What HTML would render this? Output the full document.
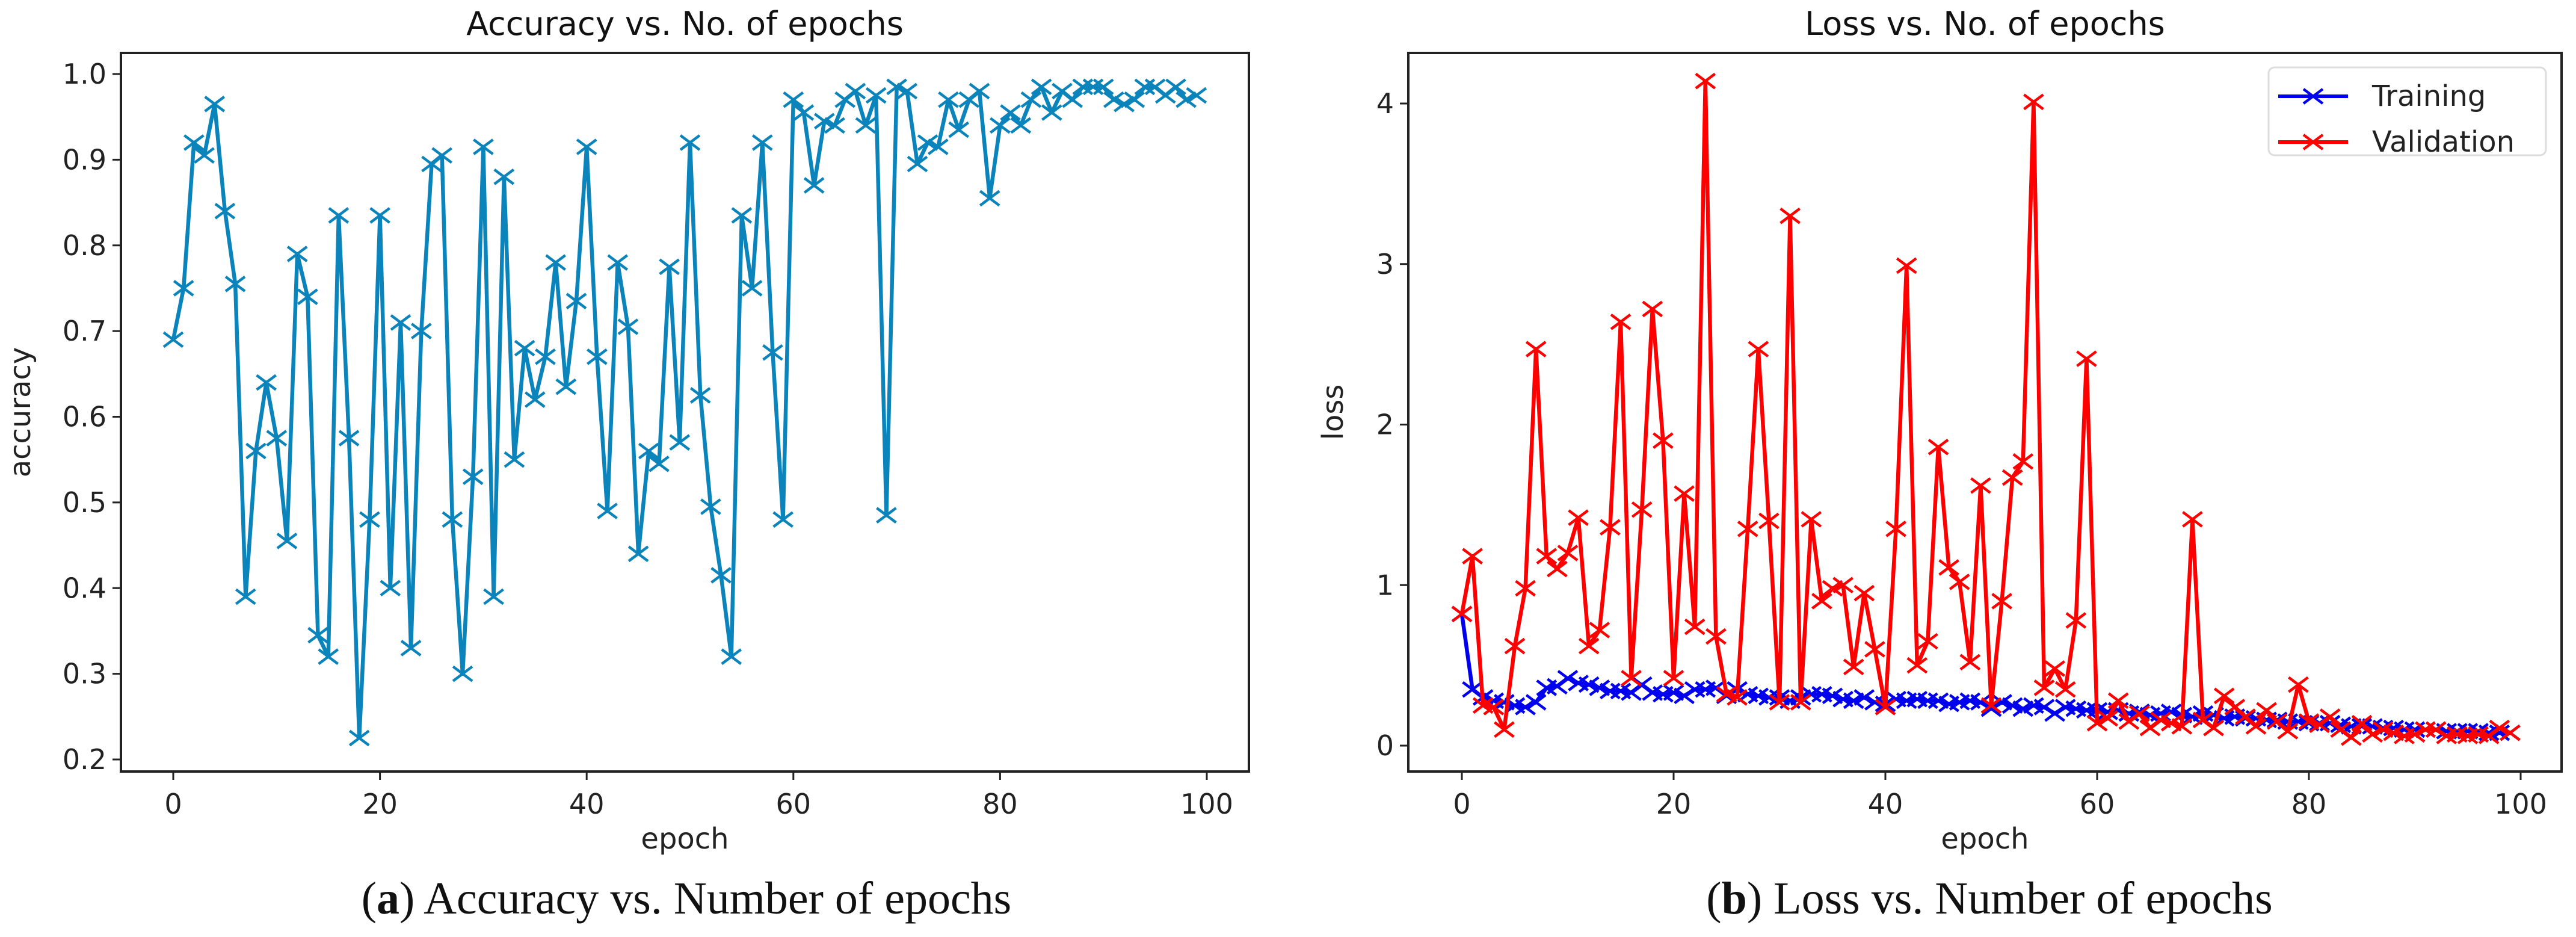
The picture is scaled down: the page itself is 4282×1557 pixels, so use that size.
<!DOCTYPE html>
<html><head><meta charset="utf-8"><style>
html,body{margin:0;padding:0;background:#fff;}
svg{display:block;}
</style></head><body>
<svg id="fig" width="4282" height="1557" viewBox="0 0 4282 1557" xmlns="http://www.w3.org/2000/svg" font-family="'DejaVu Sans','Liberation Sans',sans-serif">
<rect width="4282" height="1557" fill="#fff"/>
<g id="left"></g>
<g id="right"></g>
<text x="1141" y="1518" font-family="'Liberation Serif',serif" font-size="76" text-anchor="middle" fill="#111">(<tspan font-weight="bold">a</tspan>) Accuracy vs. Number of epochs</text>
<text x="3307" y="1518" font-family="'Liberation Serif',serif" font-size="76" text-anchor="middle" fill="#111">(<tspan font-weight="bold">b</tspan>) Loss vs. Number of epochs</text>
</svg>
<script>
const accuracy = [.69,.75,.92,.905,.965,.84,.755,.39,.56,.64,.575,.455,.79,.74,.345,.32,.835,.575,.225,.48,.835,.40,.71,.33,.70,.895,.905,.48,.30,.53,.915,.39,.88,.55,.68,.62,.67,.78,.635,.735,.915,.67,.49,.78,.705,.44,.56,.545,.775,.57,.92,.625,.495,.415,.32,.835,.75,.92,.675,.48,.97,.955,.87,.945,.94,.97,.98,.94,.975,.485,.985,.98,.895,.92,.915,.97,.935,.97,.98,.855,.94,.955,.94,.97,.985,.955,.98,.97,.985,.985,.985,.97,.965,.97,.985,.985,.975,.985,.97,.975];
const trainingLoss = [.82,.35,.30,.28,.27,.25,.24,.27,.36,.37,.42,.39,.38,.36,.34,.34,.33,.38,.33,.32,.33,.31,.35,.35,.36,.31,.35,.32,.31,.30,.30,.28,.30,.32,.32,.31,.29,.28,.30,.27,.26,.29,.28,.29,.28,.28,.26,.27,.28,.27,.23,.27,.25,.23,.25,.24,.20,.24,.23,.22,.22,.21,.22,.20,.21,.19,.20,.21,.19,.18,.20,.19,.17,.18,.17,.17,.16,.16,.15,.15,.14,.14,.14,.13,.12,.12,.12,.11,.11,.10,.10,.10,.10,.09,.09,.09,.09,.08,.08,.08];
const validationLoss = [.82,1.18,.25,.24,.10,.62,.98,2.47,1.18,1.1,1.2,1.42,.62,.72,1.36,2.64,.42,1.47,2.72,1.9,.42,1.57,.74,4.14,.68,.32,.30,1.35,2.47,1.40,.27,3.30,.27,1.41,.90,.98,1.0,.49,.95,.60,.24,1.35,2.99,.50,.65,1.86,1.11,1.02,.52,1.62,.25,.90,1.67,1.77,4.01,.36,.48,.35,.78,2.41,.14,.17,.28,.15,.20,.11,.16,.14,.12,1.41,.16,.11,.31,.24,.18,.12,.22,.15,.09,.38,.15,.13,.18,.10,.05,.14,.07,.10,.08,.06,.07,.10,.10,.06,.07,.06,.07,.06,.11,.08];
const xTicks = [0,20,40,60,80,100];
const accTicks = ["0.2","0.3","0.4","0.5","0.6","0.7","0.8","0.9","1.0"];
const lossTicks = ["0","1","2","3","4"];

const NS = "http://www.w3.org/2000/svg";
function mk(parent, tag, attrs){const e=document.createElementNS(NS,tag);for(const k in attrs)e.setAttribute(k,attrs[k]);parent.appendChild(e);return e;}

function drawChart(g, cfg){
  const {left,right,top,bottom,x0,x100,yA,vA,yB,vB} = cfg;
  const sx = v => x0 + (x100-x0)*v/100;
  const sy = v => yA + (yB-yA)*(v-vA)/(vB-vA);
  const t = mk(g,'text',{x:(left+right)/2,y:58,'font-size':54,'text-anchor':'middle',fill:'#111'});
  
  
  t.textContent = cfg.title;
  xTicks.forEach(v=>{
    const x=sx(v);
    const l=mk(g,'line',{x1:x,x2:x,y1:bottom,y2:bottom+14,stroke:'#222','stroke-width':3});
    
    
    const tx=mk(g,'text',{x:x,y:bottom+70,'font-size':46,'text-anchor':'middle',fill:'#222'});
    
    
    tx.textContent=v;
  });
  cfg.yTicks.forEach(s=>{
    const y=sy(parseFloat(s));
    const l=mk(g,'line',{x1:left-14,x2:left,y1:y,y2:y,stroke:'#222','stroke-width':3});
    
    
    const ty=mk(g,'text',{x:left-24,y:y+16,'font-size':46,'text-anchor':'end',fill:'#222'});
    
    
    ty.textContent=s;
  });
  const xl=mk(g,'text',{x:(left+right)/2,y:bottom+128,'font-size':48,'text-anchor':'middle',fill:'#222'});
  
  
  xl.textContent='epoch';
  const yl=mk(g,'text',{x:0,y:0,'font-size':48,'text-anchor':'middle',fill:'#222',transform:`translate(${cfg.ylabX},${(top+bottom)/2}) rotate(-90)`});
  
  
  yl.textContent=cfg.ylabel;
  cfg.series.forEach(s=>{
    const sg=mk(g,'g',{});
    
    
    const pts=s.data.map((v,i)=>sx(i).toFixed(1)+','+sy(v).toFixed(1)).join(' ');
    const pl=mk(sg,'polyline',{points:pts,fill:'none',stroke:s.color,'stroke-width':6.5,'stroke-linejoin':'round'});
    
    
    s.data.forEach((v,i)=>{
      const x=sx(i),y=sy(v);
      const m=mk(sg,'path',{d:`M${x-16},${y-12}L${x+16},${y+12}M${x-16},${y+12}L${x+16},${y-12}`,stroke:s.color,'stroke-width':4.5,fill:'none'});
      
      
    });
  });
  const fr=mk(g,'rect',{x:left,y:top,width:right-left,height:bottom-top,fill:'none',stroke:'#222','stroke-width':4});
  
  
}

drawChart(document.getElementById('left'),{
  title:'Accuracy vs. No. of epochs', ylabel:'accuracy', ylabX:50,
  left:201,right:2076,top:88,bottom:1282,x0:288,x100:2006,
  yA:1262,vA:0.2,yB:123,vB:1.0, yTicks:accTicks,
  series:[{name:'accuracy-series',data:accuracy,color:'#0a84bb'}]
});
drawChart(document.getElementById('right'),{
  title:'Loss vs. No. of epochs', ylabel:'loss', ylabX:2232,
  left:2341,right:4258,top:88,bottom:1282,x0:2430,x100:4190,
  yA:1239,vA:0,yB:172,vB:4, yTicks:lossTicks,
  series:[{name:'training-series',data:trainingLoss,color:'#0000ee'},{name:'validation-series',data:validationLoss,color:'#ff0000'}]
});

const R=document.getElementById('right');
const lg=mk(R,'g',{});


mk(lg,'rect',{x:3771,y:112,width:461,height:146,rx:10,fill:'#fff',stroke:'#ddd','stroke-width':3});
[['Training','#0000ee',160],['Validation','#ff0000',236]].forEach(([lab,col,y])=>{
  const e=mk(lg,'g',{});
  
  
  mk(e,'line',{x1:3787,x2:3903,y1:y,y2:y,stroke:col,'stroke-width':6});
  mk(e,'path',{d:`M${3845-16},${y-12}L${3845+16},${y+12}M${3845-16},${y+12}L${3845+16},${y-12}`,stroke:col,'stroke-width':4.5});
  const t=mk(e,'text',{x:3943,y:y+16,'font-size':48,fill:'#222'});
  t.textContent=lab;
});
</script>
</body></html>
